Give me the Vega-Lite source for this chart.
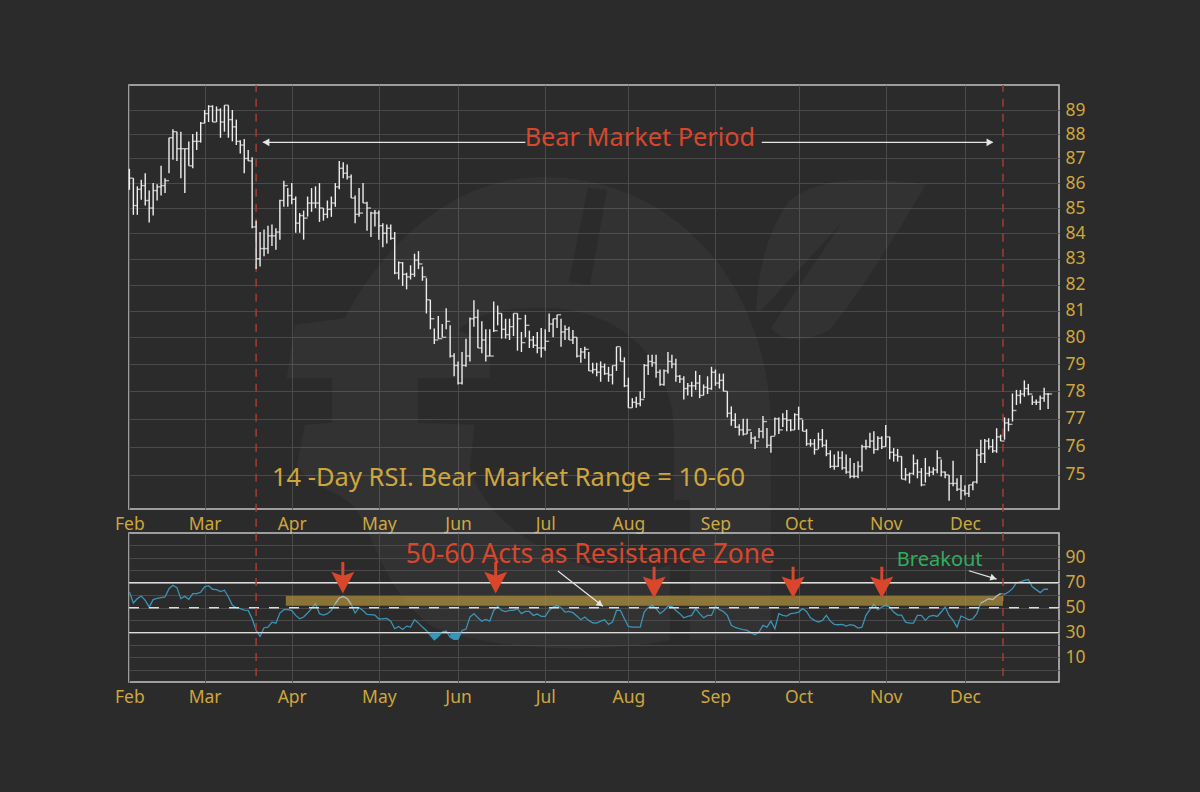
{
  "$schema": "https://vega.github.io/schema/vega-lite/v6.json",
  "background": "#2b2b2b",
  "padding": {"left": 113, "top": 83, "right": 114, "bottom": 92},
  "bounds": "flush",
  "spacing": 24,
  "datasets": {
    "bars": [
      {"d":0,"high":86.58,"low":85.73,"close":86.2,"rsi":62.6},{"d":1,"high":86.2,"low":84.73,"close":85.1,"rsi":53.8},{"d":2,"high":85.87,"low":84.73,"close":85.75,"rsi":57.3},{"d":3,"high":86.14,"low":85.33,"close":85.9,"rsi":59.4},{"d":4,"high":86.4,"low":85.1,"close":85.3,"rsi":55.9},
      {"d":5,"high":85.7,"low":84.43,"close":85.0,"rsi":50.5},{"d":6,"high":86.0,"low":84.7,"close":85.7,"rsi":56.5},{"d":7,"high":85.95,"low":85.3,"close":85.85,"rsi":57.5},{"d":8,"high":86.7,"low":85.5,"close":85.9,"rsi":58.1},{"d":9,"high":86.2,"low":85.6,"close":86.1,"rsi":58.6},
      {"d":10,"high":87.85,"low":86.4,"close":87.85,"rsi":65.3},{"d":11,"high":88.2,"low":86.95,"close":88.1,"rsi":68},{"d":12,"high":88.1,"low":86.9,"close":87.4,"rsi":66.1},{"d":13,"high":88.1,"low":86.2,"close":87.4,"rsi":57.3},{"d":14,"high":87.4,"low":85.6,"close":87.4,"rsi":59.1},
      {"d":15,"high":87.7,"low":86.7,"close":86.7,"rsi":56.7},{"d":16,"high":88.0,"low":86.6,"close":87.7,"rsi":61.3},{"d":17,"high":88.1,"low":87.35,"close":87.7,"rsi":61.3},{"d":18,"high":88.5,"low":87.65,"close":88.45,"rsi":62.4},{"d":19,"high":89.0,"low":88.45,"close":88.85,"rsi":66.7},
      {"d":20,"high":89.2,"low":88.5,"close":89.15,"rsi":67.7},{"d":21,"high":89.2,"low":88.5,"close":88.5,"rsi":64.8},{"d":22,"high":89.15,"low":88.5,"close":89.0,"rsi":64.5},{"d":23,"high":89.07,"low":87.85,"close":88.5,"rsi":62.9},{"d":24,"high":89.2,"low":88.1,"close":89.2,"rsi":64},
      {"d":25,"high":89.2,"low":87.85,"close":88.6,"rsi":58.6},{"d":26,"high":89.0,"low":87.7,"close":88.3,"rsi":51.9},{"d":27,"high":88.6,"low":87.55,"close":87.7,"rsi":50},{"d":28,"high":87.75,"low":87.2,"close":87.55,"rsi":49.2},{"d":29,"high":87.8,"low":86.4,"close":87.0,"rsi":48.1},
      {"d":30,"high":87.35,"low":86.9,"close":86.9,"rsi":47.8},{"d":31,"high":87.05,"low":84.2,"close":84.25,"rsi":41.1},{"d":32,"high":84.5,"low":82.6,"close":83.0,"rsi":31.7},{"d":33,"high":84.05,"low":82.7,"close":83.4,"rsi":26.9},{"d":34,"high":84.15,"low":83.1,"close":83.4,"rsi":33.9},
      {"d":35,"high":84.3,"low":83.2,"close":83.9,"rsi":34.4},{"d":36,"high":84.35,"low":83.5,"close":83.9,"rsi":38.4},{"d":37,"high":84.2,"low":83.35,"close":84.05,"rsi":37.6},{"d":38,"high":85.33,"low":83.75,"close":85.3,"rsi":45.7},{"d":39,"high":86.1,"low":85.05,"close":85.9,"rsi":48.4},
      {"d":40,"high":85.8,"low":85.05,"close":85.5,"rsi":48.7},{"d":41,"high":86.0,"low":85.15,"close":85.35,"rsi":47.6},{"d":42,"high":85.46,"low":84.02,"close":84.4,"rsi":43.8},{"d":43,"high":84.8,"low":84.02,"close":84.7,"rsi":41.1},{"d":44,"high":84.9,"low":83.75,"close":84.6,"rsi":42.5},
      {"d":45,"high":85.46,"low":84.66,"close":85.2,"rsi":45.7},{"d":46,"high":85.8,"low":84.85,"close":85.2,"rsi":49.2},{"d":47,"high":85.87,"low":85.0,"close":85.2,"rsi":53.2},{"d":48,"high":86.0,"low":84.45,"close":85.0,"rsi":45.2},{"d":49,"high":85.0,"low":84.5,"close":84.75,"rsi":44.1},
      {"d":50,"high":85.3,"low":84.6,"close":84.95,"rsi":45.2},{"d":51,"high":85.46,"low":84.65,"close":85.2,"rsi":47.8},{"d":52,"high":86.0,"low":85.05,"close":85.85,"rsi":53.2},{"d":53,"high":86.9,"low":85.75,"close":86.6,"rsi":57.8},{"d":54,"high":86.85,"low":86.2,"close":86.4,"rsi":59.1},
      {"d":55,"high":86.75,"low":86.15,"close":86.25,"rsi":57.3},{"d":56,"high":86.35,"low":85.4,"close":85.4,"rsi":52.7},{"d":57,"high":85.5,"low":84.4,"close":84.75,"rsi":45.7},{"d":58,"high":85.8,"low":84.65,"close":84.8,"rsi":50},{"d":59,"high":86.0,"low":85.2,"close":85.2,"rsi":47.8},
      {"d":60,"high":85.25,"low":84.1,"close":85.0,"rsi":44.6},{"d":61,"high":84.85,"low":83.85,"close":84.8,"rsi":44.4},{"d":62,"high":84.92,"low":84.27,"close":84.8,"rsi":44.1},{"d":63,"high":84.9,"low":83.75,"close":84.3,"rsi":40.9},{"d":64,"high":84.4,"low":83.45,"close":84.0,"rsi":41.1},
      {"d":65,"high":84.35,"low":83.6,"close":84.2,"rsi":41.4},{"d":66,"high":84.35,"low":83.75,"close":83.8,"rsi":39.2},{"d":67,"high":84.05,"low":82.4,"close":82.45,"rsi":33.1},{"d":68,"high":82.9,"low":82.2,"close":82.85,"rsi":34.9},{"d":69,"high":82.87,"low":81.95,"close":82.4,"rsi":32.5},
      {"d":70,"high":82.46,"low":81.82,"close":82.3,"rsi":35.2},{"d":71,"high":82.75,"low":82.2,"close":82.4,"rsi":34.4},{"d":72,"high":83.2,"low":82.3,"close":82.95,"rsi":40.3},{"d":73,"high":83.3,"low":82.6,"close":82.8,"rsi":37.6},{"d":74,"high":82.7,"low":82.15,"close":82.3,"rsi":34.4},
      {"d":75,"high":82.25,"low":80.9,"close":81.42,"rsi":31.7},{"d":76,"high":81.42,"low":80.3,"close":80.7,"rsi":27.7},{"d":77,"high":80.33,"low":79.75,"close":79.9,"rsi":24.2},{"d":78,"high":80.8,"low":79.95,"close":79.95,"rsi":26.9},{"d":79,"high":80.5,"low":80.0,"close":80.0,"rsi":30.4},
      {"d":80,"high":81.1,"low":80.3,"close":80.6,"rsi":31.2},{"d":81,"high":80.45,"low":79.25,"close":79.3,"rsi":26.3},{"d":82,"high":79.4,"low":78.55,"close":78.95,"rsi":24.5},{"d":83,"high":79.1,"low":78.25,"close":78.3,"rsi":24.7},{"d":84,"high":79.45,"low":78.25,"close":78.95,"rsi":31.7},
      {"d":85,"high":79.95,"low":78.9,"close":79.3,"rsi":32.8},{"d":86,"high":80.75,"low":79.1,"close":80.7,"rsi":42.5},{"d":87,"high":81.4,"low":80.4,"close":80.75,"rsi":45.2},{"d":88,"high":81.05,"low":79.6,"close":79.6,"rsi":41.9},{"d":89,"high":80.6,"low":79.4,"close":79.9,"rsi":39.2},
      {"d":90,"high":80.3,"low":79.1,"close":79.3,"rsi":40.6},{"d":91,"high":80.3,"low":79.3,"close":79.3,"rsi":39.2},{"d":92,"high":81.35,"low":80.2,"close":80.25,"rsi":47.8},{"d":93,"high":81.2,"low":80.45,"close":80.9,"rsi":51.1},{"d":94,"high":80.9,"low":79.95,"close":80.3,"rsi":47.8},
      {"d":95,"high":80.7,"low":79.95,"close":80.1,"rsi":46.8},{"d":96,"high":80.7,"low":79.9,"close":80.4,"rsi":47.8},{"d":97,"high":80.9,"low":80.05,"close":80.9,"rsi":47.8},{"d":98,"high":80.9,"low":79.5,"close":80.7,"rsi":49.2},{"d":99,"high":80.2,"low":79.45,"close":79.8,"rsi":45.2},
      {"d":100,"high":80.85,"low":80.0,"close":80.45,"rsi":47},{"d":101,"high":80.25,"low":79.6,"close":79.9,"rsi":47},{"d":102,"high":80.05,"low":79.6,"close":79.7,"rsi":43.8},{"d":103,"high":80.2,"low":79.4,"close":79.6,"rsi":44.9},{"d":104,"high":80.35,"low":79.25,"close":79.6,"rsi":43},
      {"d":105,"high":80.3,"low":79.5,"close":79.85,"rsi":43},{"d":106,"high":80.9,"low":80.2,"close":80.5,"rsi":47.8},{"d":107,"high":80.7,"low":80.0,"close":80.7,"rsi":50.5},{"d":108,"high":80.85,"low":80.35,"close":80.85,"rsi":51.6},{"d":109,"high":80.7,"low":79.65,"close":80.2,"rsi":50},
      {"d":110,"high":80.45,"low":79.9,"close":80.3,"rsi":46.5},{"d":111,"high":80.4,"low":79.9,"close":79.9,"rsi":47},{"d":112,"high":80.27,"low":79.75,"close":80.0,"rsi":46},{"d":113,"high":80.0,"low":79.25,"close":79.3,"rsi":43.3},{"d":114,"high":79.6,"low":79.05,"close":79.45,"rsi":40.3},
      {"d":115,"high":79.65,"low":79.2,"close":79.55,"rsi":42.5},{"d":116,"high":79.45,"low":78.75,"close":78.75,"rsi":39.8},{"d":117,"high":79.05,"low":78.65,"close":78.8,"rsi":37.9},{"d":118,"high":79.05,"low":78.55,"close":78.7,"rsi":37.6},{"d":119,"high":79.1,"low":78.35,"close":78.9,"rsi":39.2},
      {"d":120,"high":79.02,"low":78.6,"close":78.65,"rsi":40.3},{"d":121,"high":78.9,"low":78.35,"close":78.6,"rsi":36.6},{"d":122,"high":78.95,"low":78.25,"close":78.95,"rsi":38.4},{"d":123,"high":79.65,"low":78.75,"close":79.65,"rsi":47.8},{"d":124,"high":79.62,"low":79.1,"close":79.1,"rsi":47.8},
      {"d":125,"high":79.25,"low":78.15,"close":78.2,"rsi":41.1},{"d":126,"high":78.5,"low":77.4,"close":77.4,"rsi":34.9},{"d":127,"high":77.75,"low":77.4,"close":77.6,"rsi":34.4},{"d":128,"high":77.8,"low":77.4,"close":77.55,"rsi":34.4},{"d":129,"high":78.0,"low":77.45,"close":77.7,"rsi":34.4},
      {"d":130,"high":79.0,"low":77.75,"close":78.95,"rsi":46.5},{"d":131,"high":79.35,"low":78.6,"close":79.1,"rsi":50},{"d":132,"high":79.35,"low":78.9,"close":79.05,"rsi":51.9},{"d":133,"high":79.35,"low":78.5,"close":78.7,"rsi":49.2},{"d":134,"high":78.8,"low":78.2,"close":78.25,"rsi":45.2},
      {"d":135,"high":78.8,"low":78.2,"close":78.75,"rsi":47.8},{"d":136,"high":79.45,"low":78.65,"close":79.1,"rsi":51.1},{"d":137,"high":79.35,"low":78.85,"close":79.0,"rsi":51.1},{"d":138,"high":79.2,"low":78.35,"close":78.55,"rsi":47.8},{"d":139,"high":78.6,"low":78.3,"close":78.45,"rsi":45.2},
      {"d":140,"high":78.55,"low":77.7,"close":78.1,"rsi":41.9},{"d":141,"high":78.3,"low":77.85,"close":78.2,"rsi":43},{"d":142,"high":78.35,"low":77.8,"close":78.2,"rsi":43.8},{"d":143,"high":78.75,"low":78.05,"close":78.3,"rsi":49.2},{"d":144,"high":78.6,"low":77.75,"close":77.85,"rsi":45.2},
      {"d":145,"high":78.25,"low":77.85,"close":78.15,"rsi":41.9},{"d":146,"high":78.55,"low":77.9,"close":78.1,"rsi":43.8},{"d":147,"high":78.9,"low":78.05,"close":78.7,"rsi":43.8},{"d":148,"high":78.8,"low":78.2,"close":78.3,"rsi":51.1},{"d":149,"high":78.65,"low":78.1,"close":78.4,"rsi":48.4},
      {"d":150,"high":78.65,"low":78.0,"close":78.0,"rsi":47},{"d":151,"high":78.0,"low":77.05,"close":77.2,"rsi":43.8},{"d":152,"high":77.45,"low":76.75,"close":76.95,"rsi":35.8},{"d":153,"high":77.2,"low":76.67,"close":76.7,"rsi":34.1},{"d":154,"high":76.8,"low":76.4,"close":76.6,"rsi":33.1},
      {"d":155,"high":77.0,"low":76.4,"close":76.45,"rsi":32.3},{"d":156,"high":77.0,"low":76.45,"close":76.6,"rsi":31.7},{"d":157,"high":76.52,"low":76.1,"close":76.3,"rsi":29.8},{"d":158,"high":76.37,"low":75.92,"close":76.2,"rsi":28.2},{"d":159,"high":76.67,"low":76.3,"close":76.55,"rsi":30.4},
      {"d":160,"high":77.1,"low":76.3,"close":76.9,"rsi":35.8},{"d":161,"high":76.67,"low":75.95,"close":76.05,"rsi":34.4},{"d":162,"high":76.37,"low":75.78,"close":76.37,"rsi":39.2},{"d":163,"high":77.05,"low":76.4,"close":77.0,"rsi":33.1},{"d":164,"high":77.05,"low":76.45,"close":76.6,"rsi":45.2},
      {"d":165,"high":77.2,"low":76.7,"close":77.0,"rsi":43.8},{"d":166,"high":77.32,"low":76.55,"close":76.95,"rsi":43.3},{"d":167,"high":76.98,"low":76.55,"close":76.6,"rsi":45.2},{"d":168,"high":77.2,"low":76.6,"close":77.15,"rsi":45.7},{"d":169,"high":77.44,"low":76.6,"close":77.0,"rsi":46.5},
      {"d":170,"high":76.96,"low":76.55,"close":76.55,"rsi":49.2},{"d":171,"high":76.63,"low":76.03,"close":76.1,"rsi":47},{"d":172,"high":76.27,"low":76.0,"close":76.1,"rsi":41.9},{"d":173,"high":76.27,"low":75.72,"close":75.9,"rsi":39.8},{"d":174,"high":76.5,"low":75.92,"close":76.25,"rsi":38.4},
      {"d":175,"high":76.63,"low":75.98,"close":76.05,"rsi":39.8},{"d":176,"high":76.25,"low":75.66,"close":75.75,"rsi":43.8},{"d":177,"high":75.87,"low":75.24,"close":75.3,"rsi":39.2},{"d":178,"high":75.72,"low":75.18,"close":75.3,"rsi":36.6},{"d":179,"high":75.84,"low":75.28,"close":75.6,"rsi":36.3},
      {"d":180,"high":75.84,"low":75.18,"close":75.25,"rsi":36.6},{"d":181,"high":75.72,"low":75.04,"close":75.1,"rsi":35.2},{"d":182,"high":75.6,"low":74.88,"close":74.95,"rsi":36.3},{"d":183,"high":75.42,"low":74.88,"close":74.95,"rsi":35.8},{"d":184,"high":75.48,"low":74.88,"close":75.3,"rsi":33.6},
      {"d":185,"high":76.07,"low":75.12,"close":76.0,"rsi":34.4},{"d":186,"high":76.25,"low":75.9,"close":76.0,"rsi":43.8},{"d":187,"high":76.5,"low":75.95,"close":76.2,"rsi":48.4},{"d":188,"high":76.55,"low":75.75,"close":75.9,"rsi":52.7},{"d":189,"high":76.37,"low":75.87,"close":76.3,"rsi":48.4},
      {"d":190,"high":76.37,"low":75.92,"close":76.0,"rsi":50.5},{"d":191,"high":76.78,"low":76.0,"close":76.35,"rsi":51.9},{"d":192,"high":76.35,"low":75.55,"close":75.8,"rsi":50.5},{"d":193,"high":75.95,"low":75.47,"close":75.7,"rsi":46.5},{"d":194,"high":75.92,"low":75.47,"close":75.65,"rsi":44.1},
      {"d":195,"high":75.66,"low":74.85,"close":74.85,"rsi":44.1},{"d":196,"high":75.24,"low":74.8,"close":75.0,"rsi":38.4},{"d":197,"high":75.08,"low":74.7,"close":75.05,"rsi":37.6},{"d":198,"high":75.72,"low":75.0,"close":75.4,"rsi":37.6},{"d":199,"high":75.55,"low":74.88,"close":75.1,"rsi":43.8},
      {"d":200,"high":75.24,"low":74.6,"close":74.65,"rsi":43.8},{"d":201,"high":75.6,"low":74.73,"close":75.05,"rsi":39.8},{"d":202,"high":75.3,"low":74.94,"close":75.1,"rsi":43},{"d":203,"high":75.27,"low":75.0,"close":75.18,"rsi":43.8},{"d":204,"high":75.87,"low":75.06,"close":75.6,"rsi":43},
      {"d":205,"high":75.54,"low":74.94,"close":75.1,"rsi":46.5},{"d":206,"high":75.12,"low":74.88,"close":75.0,"rsi":50.5},{"d":207,"high":75.0,"low":74.1,"close":74.7,"rsi":43.8},{"d":208,"high":75.5,"low":74.6,"close":74.7,"rsi":39.8},{"d":209,"high":74.88,"low":74.44,"close":74.5,"rsi":34.4},
      {"d":210,"high":75.0,"low":74.13,"close":74.45,"rsi":43.3},{"d":211,"high":74.64,"low":74.28,"close":74.35,"rsi":41.9},{"d":212,"high":74.65,"low":74.23,"close":74.65,"rsi":40.3},{"d":213,"high":74.76,"low":74.46,"close":74.75,"rsi":41.1},{"d":214,"high":75.92,"low":74.7,"close":75.7,"rsi":45.2},
      {"d":215,"high":76.25,"low":75.42,"close":75.75,"rsi":53.8},{"d":216,"high":76.27,"low":75.42,"close":76.2,"rsi":55.4},{"d":217,"high":76.3,"low":75.9,"close":76.0,"rsi":57.3},{"d":218,"high":76.27,"low":75.78,"close":75.85,"rsi":56.5},{"d":219,"high":76.66,"low":75.78,"close":76.35,"rsi":59.4},
      {"d":220,"high":76.43,"low":76.2,"close":76.2,"rsi":61.3},{"d":221,"high":77.05,"low":76.25,"close":76.85,"rsi":60.8},{"d":222,"high":77.02,"low":76.55,"close":76.8,"rsi":62.6},{"d":223,"high":77.92,"low":76.9,"close":77.3,"rsi":65.3},{"d":224,"high":78.05,"low":77.5,"close":77.85,"rsi":69.9},
      {"d":225,"high":78.05,"low":77.55,"close":77.9,"rsi":70.7},{"d":226,"high":78.4,"low":77.8,"close":78.1,"rsi":72},{"d":227,"high":78.27,"low":77.85,"close":77.9,"rsi":72.6},{"d":228,"high":77.85,"low":77.5,"close":77.6,"rsi":66.7},{"d":229,"high":77.7,"low":77.5,"close":77.6,"rsi":64.5},
      {"d":230,"high":77.85,"low":77.32,"close":77.75,"rsi":62.1},{"d":231,"high":78.13,"low":77.62,"close":77.9,"rsi":64.8},{"d":232,"high":77.94,"low":77.35,"close":77.9,"rsi":64.8}
    ],
    "bearLines": [{"d":32},{"d":220.6}],
    "signals": [
      {"d":53.9,"head":70.6,"tail":86.7},
      {"d":92.5,"head":70.6,"tail":86.7},
      {"d":132.5,"head":66.8,"tail":82.9},
      {"d":167.6,"head":66.8,"tail":82.9},
      {"d":190,"head":66.8,"tail":82.9}
    ]
  },
  "config": {
    "font": "Noto Sans",
    "view": {"stroke": "#c4c4c4", "strokeWidth": 1.5},
    "axis": {
      "grid": true,
      "gridColor": "#4a4a4a",
      "gridWidth": 1,
      "domain": false,
      "ticks": false,
      "title": null,
      "labelColor": "#cda63e",
      "labelFontSize": 17.5,
      "labelPadding": 6,
      "labelFlush": false,
      "labelOverlap": false,
      "tickCount": 40
    }
  },
  "vconcat": [
    {
      "width": 930,
      "height": 424,
      "data": {"name": "bars"},
      "layer": [
        {
          "data": {"values": [{"d":118.8,"price":76.6}]},
          "mark": {"type": "point", "filled": true, "color": "#ffffff", "opacity": 0.035, "size": 462400, "shape": "M.265 .618 L.503 .618 L.503 0 C.503 -.412 .235 -.744 -.168 -.744 C-.441 -.744 -.647 -.529 -.75 -.329 L-.897 -.309 L-.921 -.153 L-.788 -.153 L-.788 -.021 L-.868 -.015 L-.891 .109 C-.838 .176 -.765 .176 -.715 .235 C-.662 .324 -.632 .471 -.5 .574 C-.353 .647 0 .662 .206 .618 L.206 .397 C0 .471 -.324 .324 -.382 .109 L-.368 -.015 L-.535 -.021 L-.535 -.153 L-.324 -.153 L-.324 -.25 L-.415 -.294 C-.353 -.35 -.26 -.359 -.168 -.359 C.059 -.359 .218 -.206 .218 .012 L.218 .206 L.265 .206 Z M-.035 -.712 L.021 -.706 L-.029 -.426 L-.091 -.435 Z M.959 -.721 Q.676 -.765 .559 -.676 Q.471 -.559 .459 -.353 L.471 -.347 L.712 -.609 L.503 -.3 Q.559 -.235 .676 -.294 Q.794 -.441 .959 -.721 Z"},
          "encoding": {
            "x": {"field": "d", "type": "quantitative", "scale": {"domain": [-0.1, 234.75], "nice": false, "zero": false}, "axis": {"orient": "bottom", "values": [0,19,41,63,83,105,126,148,169,191,211], "labelExpr": "{0:'Feb',19:'Mar',41:'Apr',63:'May',83:'Jun',105:'Jul',126:'Aug',148:'Sep',169:'Oct',191:'Nov',211:'Dec'}[datum.value]"}},
            "y": {"field": "price", "type": "quantitative", "scale": {"type": "log", "domain": [73.81, 90.05], "nice": false}, "axis": {"orient": "right", "values": [75,76,77,78,79,80,81,82,83,84,85,86,87,88,89], "labelExpr": "datum.value"}}
          }
        },
        {
          "data": {"values": [{"d":32,"low":73.2,"high":90.05},{"d":220.6,"low":73.2,"high":90.05}]},
          "mark": {"type": "rule", "color": "#a33d33", "strokeWidth": 1.5, "strokeDash": [8, 7]},
          "encoding": {
            "x": {"field": "d", "type": "quantitative"},
            "y": {"field": "low", "type": "quantitative"},
            "y2": {"field": "high"}
          }
        },
        {
          "mark": {"type": "rule", "color": "#eeeeee", "strokeWidth": 1.4},
          "encoding": {
            "x": {"field": "d", "type": "quantitative"},
            "y": {"field": "low", "type": "quantitative"},
            "y2": {"field": "high"}
          }
        },
        {
          "mark": {"type": "tick", "orient": "horizontal", "color": "#eeeeee", "size": 4, "thickness": 1.4, "xOffset": 2},
          "encoding": {
            "x": {"field": "d", "type": "quantitative"},
            "y": {"field": "close", "type": "quantitative"}
          }
        },
        {
          "data": {"values": [{"from":33.7,"to":100,"price":87.66},{"from":159.7,"to":218,"price":87.66}]},
          "mark": {"type": "rule", "color": "#e6e6e6", "strokeWidth": 1.4},
          "encoding": {
            "x": {"field": "from", "type": "quantitative"},
            "x2": {"field": "to"},
            "y": {"field": "price", "type": "quantitative"}
          }
        },
        {
          "data": {"values": [{"d":34.5,"price":87.66,"dir":"triangle-left"},{"d":217.3,"price":87.66,"dir":"triangle-right"}]},
          "mark": {"type": "point", "filled": true, "color": "#e6e6e6", "opacity": 1, "size": 60},
          "encoding": {
            "x": {"field": "d", "type": "quantitative"},
            "y": {"field": "price", "type": "quantitative"},
            "shape": {"field": "dir", "type": "nominal", "scale": null}
          }
        },
        {
          "data": {"values": [{"d":128.9,"price":87.85,"label":"Bear Market Period"}]},
          "mark": {"type": "text", "color": "#d8462c", "fontSize": 25.3, "align": "center", "baseline": "middle"},
          "encoding": {
            "x": {"field": "d", "type": "quantitative"},
            "y": {"field": "price", "type": "quantitative"},
            "text": {"field": "label"}
          }
        },
        {
          "data": {"values": [{"d":36,"price":74.88,"label":"14 -Day RSI. Bear Market Range = 10-60"}]},
          "mark": {"type": "text", "color": "#cda63e", "fontSize": 25.5, "align": "left", "baseline": "middle"},
          "encoding": {
            "x": {"field": "d", "type": "quantitative"},
            "y": {"field": "price", "type": "quantitative"},
            "text": {"field": "label"}
          }
        }
      ]
    },
    {
      "width": 930,
      "height": 149,
      "data": {"name": "bars"},
      "layer": [
        {
          "mark": {"type": "line", "color": "#3a94b8", "strokeWidth": 1.3},
          "encoding": {
            "x": {"field": "d", "type": "quantitative", "scale": {"domain": [-0.1, 234.75], "nice": false, "zero": false}, "axis": {"orient": "bottom", "values": [0,19,41,63,83,105,126,148,169,191,211], "labelExpr": "{0:'Feb',19:'Mar',41:'Apr',63:'May',83:'Jun',105:'Jul',126:'Aug',148:'Sep',169:'Oct',191:'Nov',211:'Dec'}[datum.value]"}},
            "y": {"field": "rsi", "type": "quantitative", "scale": {"domain": [-9.7, 110], "nice": false, "zero": false}, "axis": {"orient": "right", "values": [0,10,20,30,40,50,60,70,80,90,100], "labelExpr": "datum.value % 20 == 10 ? datum.label : ''"}}
          }
        },
        {
          "data": {"values": [{"level":70,"dash":"solid"},{"level":30,"dash":"solid"},{"level":50,"dash":"dashed"}]},
          "mark": {"type": "rule", "color": "#dcdcdc", "strokeWidth": 1.4},
          "encoding": {
            "y": {"field": "level", "type": "quantitative"},
            "strokeDash": {"field": "dash", "type": "nominal", "scale": {"domain": ["solid","dashed"], "range": [[1,0],[10,10]]}, "legend": null}
          }
        },
        {
          "data": {"name": "bearLines"},
          "mark": {"type": "rule", "color": "#a33d33", "strokeWidth": 1.5, "strokeDash": [8, 7]},
          "encoding": {
            "x": {"field": "d", "type": "quantitative"}
          }
        },
        {
          "transform": [{"filter": {"field": "d", "range": [76, 79]}}],
          "mark": {"type": "area", "color": "#3a94b8"},
          "encoding": {
            "x": {"field": "d", "type": "quantitative"},
            "y": {"field": "rsi", "type": "quantitative"},
            "y2": {"datum": 30}
          }
        },
        {
          "transform": [{"filter": {"field": "d", "range": [81, 84]}}],
          "mark": {"type": "area", "color": "#3a94b8"},
          "encoding": {
            "x": {"field": "d", "type": "quantitative"},
            "y": {"field": "rsi", "type": "quantitative"},
            "y2": {"datum": 30}
          }
        },
        {
          "data": {"values": [{"from":39.5,"to":220.6,"lo":51.6,"hi":59.4}]},
          "mark": {"type": "rect", "color": "#c9a33d", "opacity": 0.6},
          "encoding": {
            "x": {"field": "from", "type": "quantitative"},
            "x2": {"field": "to"},
            "y": {"field": "lo", "type": "quantitative"},
            "y2": {"field": "hi"}
          }
        },
        {
          "transform": [{"filter": {"field": "d", "range": [52, 56]}}],
          "mark": {"type": "line", "color": "#b5b5b5", "strokeWidth": 1.2},
          "encoding": {
            "x": {"field": "d", "type": "quantitative"},
            "y": {"field": "rsi", "type": "quantitative"}
          }
        },
        {
          "transform": [{"filter": {"field": "d", "range": [215, 220]}}],
          "mark": {"type": "line", "color": "#b5b5b5", "strokeWidth": 1.2},
          "encoding": {
            "x": {"field": "d", "type": "quantitative"},
            "y": {"field": "rsi", "type": "quantitative"}
          }
        },
        {
          "data": {"name": "signals"},
          "mark": {"type": "rule", "color": "#d8462c", "strokeWidth": 3},
          "encoding": {
            "x": {"field": "d", "type": "quantitative"},
            "y": {"field": "head", "type": "quantitative"},
            "y2": {"field": "tail"}
          }
        },
        {
          "data": {"name": "signals"},
          "mark": {"type": "point", "shape": "M0 1 L-1 -.9 L-.15 -.6 L.15 -.6 L1 -.9 Z", "filled": true, "color": "#d8462c", "opacity": 1, "size": 529},
          "encoding": {
            "x": {"field": "d", "type": "quantitative"},
            "y": {"field": "head", "type": "quantitative"}
          }
        },
        {
          "data": {"values": [{"x1":108.2,"x2":119.6,"y1":79.4,"y2":51.2},{"x1":212,"x2":219,"y1":79.7,"y2":73}]},
          "mark": {"type": "rule", "color": "#e6e6e6", "strokeWidth": 1.2},
          "encoding": {
            "x": {"field": "x1", "type": "quantitative"},
            "x2": {"field": "x2"},
            "y": {"field": "y1", "type": "quantitative"},
            "y2": {"field": "y2"}
          }
        },
        {
          "data": {"values": [{"d":118.9,"rsi":52.6,"turn":128},{"d":218.2,"rsi":73.8,"turn":107}]},
          "mark": {"type": "point", "shape": "triangle-up", "filled": true, "color": "#e6e6e6", "opacity": 1, "size": 50},
          "encoding": {
            "x": {"field": "d", "type": "quantitative"},
            "y": {"field": "rsi", "type": "quantitative"},
            "angle": {"field": "turn", "type": "quantitative", "scale": null}
          }
        },
        {
          "data": {"values": [{"d":116.4,"rsi":92.5,"label":"50-60 Acts as Resistance Zone"}]},
          "mark": {"type": "text", "color": "#d8462c", "fontSize": 26.4, "align": "center", "baseline": "middle"},
          "encoding": {
            "x": {"field": "d", "type": "quantitative"},
            "y": {"field": "rsi", "type": "quantitative"},
            "text": {"field": "label"}
          }
        },
        {
          "data": {"values": [{"d":193.8,"rsi":88.5,"label":"Breakout"}]},
          "mark": {"type": "text", "color": "#2fae60", "fontSize": 20, "align": "left", "baseline": "middle"},
          "encoding": {
            "x": {"field": "d", "type": "quantitative"},
            "y": {"field": "rsi", "type": "quantitative"},
            "text": {"field": "label"}
          }
        }
      ]
    }
  ]
}
